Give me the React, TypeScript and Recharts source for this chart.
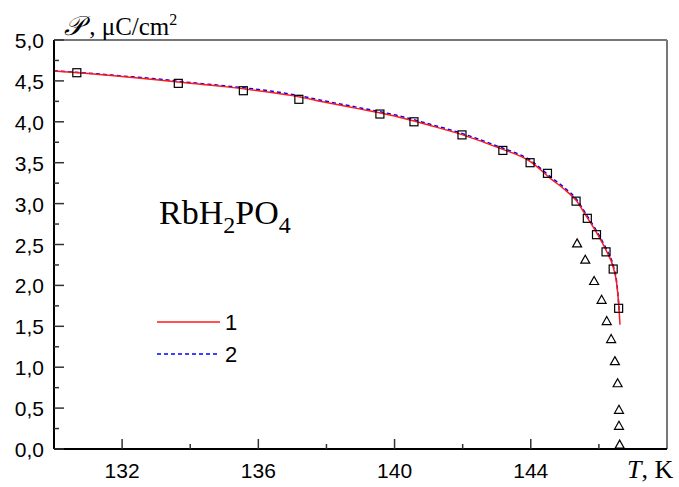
import React from 'react';
import { ComposedChart, Line, Scatter, XAxis, YAxis, ReferenceLine } from 'recharts';

// measured points (squares) and second data set (triangles)
const SQUARE_T = [130.67, 133.65, 135.56, 137.19, 139.57, 140.57, 141.98, 143.18, 143.98, 144.49, 145.33, 145.66, 145.93, 146.21, 146.42, 146.58];
const SQUARE_P = [4.6, 4.47, 4.38, 4.275, 4.095, 4.0, 3.84, 3.65, 3.5, 3.37, 3.03, 2.82, 2.62, 2.41, 2.2, 1.72];
const TRI_T = [145.36, 145.6, 145.86, 146.08, 146.23, 146.36, 146.47, 146.55, 146.59, 146.59, 146.61];
const TRI_P = [2.52, 2.32, 2.06, 1.83, 1.57, 1.35, 1.08, 0.81, 0.485, 0.29, 0.06];

// theory curves 1 (red) and 2 (blue dashed)
const RED_T = [130, 131, 132, 133, 134, 135, 136, 137, 138, 139, 140, 141, 142, 143, 144, 144.6, 145, 145.33, 145.64, 145.94, 146.21, 146.43, 146.52, 146.58, 146.62];
const RED_P = [4.62, 4.59, 4.555, 4.515, 4.47, 4.43, 4.38, 4.32, 4.235, 4.155, 4.07, 3.96, 3.84, 3.69, 3.51, 3.3, 3.17, 3.04, 2.84, 2.64, 2.43, 2.21, 2.03, 1.78, 1.52];
const BLUE_T = [130, 131, 132, 133, 134, 135, 136, 137, 138, 139, 140, 141, 142, 143, 144, 144.6, 145, 145.33, 145.64, 145.94, 146.21, 146.43, 146.52, 146.6];
const BLUE_P = [4.625, 4.595, 4.56, 4.525, 4.48, 4.44, 4.395, 4.335, 4.25, 4.17, 4.085, 3.975, 3.855, 3.705, 3.525, 3.32, 3.19, 3.06, 2.86, 2.66, 2.45, 2.23, 2.05, 1.68];
const TAIL_T = [146.62, 148];
const TAIL_P = [0, 0];

const X_TICKS = [132, 134, 136, 138, 140, 142, 144, 146];
const X_MAJOR = [132, 136, 140, 144];
const Y_TICKS = [0, 0.25, 0.5, 0.75, 1, 1.25, 1.5, 1.75, 2, 2.25, 2.5, 2.75, 3, 3.25, 3.5, 3.75, 4, 4.25, 4.5, 4.75, 5];

const zip = (ts: number[], ps: number[]) => ts.map((t, i) => ({ t, p: ps[i] }));

const squares = zip(SQUARE_T, SQUARE_P);
const triangles = zip(TRI_T, TRI_P);
const red = zip(RED_T, RED_P);
const blue = zip(BLUE_T, BLUE_P);
const tail = zip(TAIL_T, TAIL_P);

const SANS = '"Liberation Sans", Arial, sans-serif';
const SERIF = '"Liberation Serif", "Times New Roman", serif';

const XTick = (props: any) => {
  const { x, y, payload } = props;
  const major = X_MAJOR.includes(payload.value);
  return (
    <g>
      <line x1={x} x2={x} y1={y} y2={y - (major ? 10 : 5)} stroke="#333" strokeWidth={1.5} />
      {major && (
        <text x={x} y={y + 29} textAnchor="middle" fontFamily={SANS} fontSize={21} fill="#000">
          {payload.value}
        </text>
      )}
    </g>
  );
};

const YTick = (props: any) => {
  const { x, y, payload } = props;
  const major = Math.abs(payload.value * 2 - Math.round(payload.value * 2)) < 1e-6;
  return (
    <g>
      <line x1={x} x2={x + (major ? 10 : 5)} y1={y} y2={y} stroke="#333" strokeWidth={1.5} />
      {major && (
        <text x={x - 10} y={y + 8} textAnchor="end" fontFamily={SANS} fontSize={21} fill="#000">
          {payload.value.toFixed(1).replace('.', ',')}
        </text>
      )}
    </g>
  );
};

const Square = (props: any) => {
  const { cx, cy } = props;
  return <rect x={cx - 4} y={cy - 4} width={8} height={8} fill="none" stroke="#000" strokeWidth={1.2} />;
};

const Triangle = (props: any) => {
  const { cx, cy } = props;
  return (
    <path
      d={`M${cx},${cy - 4} L${cx + 4.5},${cy + 4} L${cx - 4.5},${cy + 4} Z`}
      fill="none"
      stroke="#000"
      strokeWidth={1.2}
    />
  );
};

export default function App() {
  return (
    <div style={{ position: 'absolute', left: 0, top: 0, width: 679, height: 487, background: '#fff' }}>
      <ComposedChart width={679} height={487} margin={{ top: 40, right: 12, left: 0, bottom: 0 }}>
        <XAxis
          dataKey="t"
          type="number"
          domain={[130, 148]}
          ticks={X_TICKS}
          interval={0}
          allowDataOverflow
          height={38}
          tickSize={0}
          tickMargin={0}
          tickLine={false}
          tick={<XTick />}
          axisLine={{ stroke: '#000', strokeWidth: 2 }}
        />
        <YAxis
          dataKey="p"
          type="number"
          domain={[0, 5]}
          ticks={Y_TICKS}
          interval={0}
          allowDataOverflow
          width={54}
          tickSize={0}
          tickMargin={0}
          tickLine={false}
          tick={<YTick />}
          axisLine={{ stroke: '#000', strokeWidth: 2 }}
        />
        <ReferenceLine y={5} stroke="#777" strokeWidth={2} />
        <ReferenceLine x={148} stroke="#777" strokeWidth={2} />
        <Line data={blue} dataKey="p" type="monotone" stroke="#0000ff" strokeWidth={1.5} strokeDasharray="4 3" dot={false} isAnimationActive={false} />
        <Line data={red} dataKey="p" type="monotone" stroke="#ff1a1a" strokeWidth={1.5} dot={false} isAnimationActive={false} />
        <Line data={tail} dataKey="p" type="linear" stroke="#ff1a1a" strokeWidth={1.5} dot={false} isAnimationActive={false} />
        <Line data={tail} dataKey="p" type="linear" stroke="#0000ff" strokeWidth={1.5} strokeDasharray="2 5" dot={false} isAnimationActive={false} />
        <Scatter data={squares} dataKey="p" shape={<Square />} isAnimationActive={false} />
        <Scatter data={triangles} dataKey="p" shape={<Triangle />} isAnimationActive={false} />
      </ComposedChart>

      {/* axis titles, compound name and legend */}
      <div style={{ position: 'absolute', left: 64, top: 6, fontFamily: SERIF, fontSize: 25, lineHeight: '28px', whiteSpace: 'nowrap' }}>
        <span style={{ fontStyle: 'italic', fontSize: 27 }}>𝒫</span>{' '},{' '}μC/cm<sup style={{ fontSize: 16, verticalAlign: 10 }}>2</sup>
      </div>
      <div style={{ position: 'absolute', left: 627, top: 457, fontFamily: SERIF, fontSize: 26, lineHeight: '26px', whiteSpace: 'nowrap' }}>
        <i>T</i>, K
      </div>
      <div style={{ position: 'absolute', left: 159, top: 195, fontFamily: SERIF, fontSize: 34, lineHeight: '36px', whiteSpace: 'nowrap' }}>
        RbH<sub style={{ fontSize: 24, verticalAlign: -9 }}>2</sub>PO<sub style={{ fontSize: 24, verticalAlign: -9 }}>4</sub>
      </div>
      <svg style={{ position: 'absolute', left: 150, top: 303 }} width={120} height={72}>
        <line x1={7} x2={70} y1={19} y2={19} stroke="#ff1a1a" strokeWidth={1.5} />
        <line x1={7} x2={70} y1={51} y2={51} stroke="#0000ff" strokeWidth={1.5} strokeDasharray="4 3" />
        <text x={75} y={27} fontFamily={SANS} fontSize={22} fill="#000">1</text>
        <text x={75} y={59} fontFamily={SANS} fontSize={22} fill="#000">2</text>
      </svg>
    </div>
  );
}
